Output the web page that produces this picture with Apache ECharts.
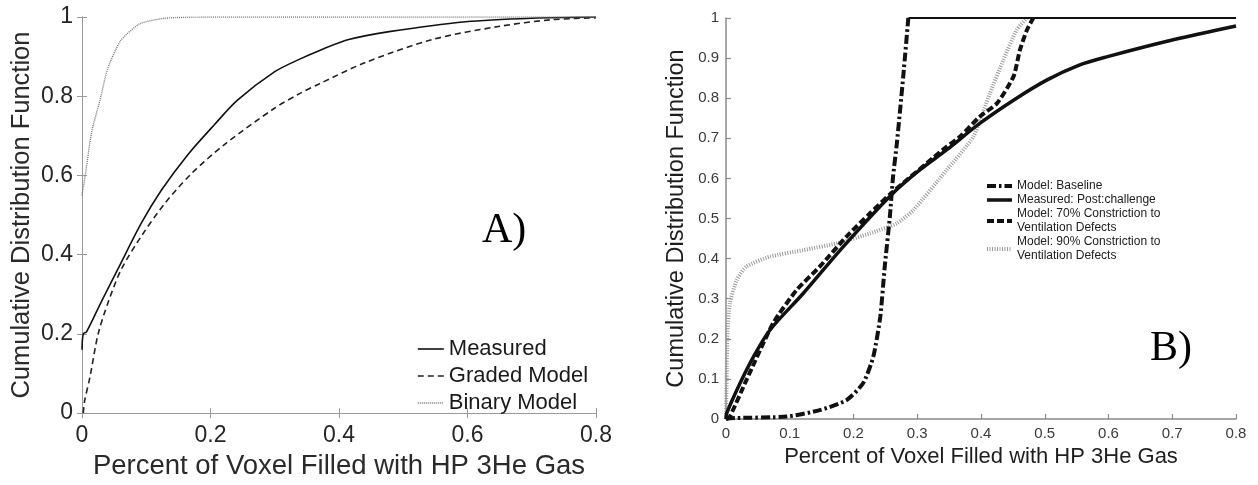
<!DOCTYPE html>
<html>
<head>
<meta charset="utf-8">
<style>
  html, body { margin: 0; padding: 0; background: #ffffff; }
  #chart { width: 1258px; height: 485px; }
</style>
<script src="https://cdn.jsdelivr.net/npm/echarts@6/dist/echarts.min.js"></script>
</head>
<body>
<div id="chart"></div>
<script>
// Panel A: CDF of voxel fill fraction (measured vs. graded / binary models)
const measuredA = [[0,0.16],[0.002,0.2],[0.007,0.205],[0.03,0.281],[0.056,0.364],[0.0925,0.48],[0.1235,0.5625],
  [0.165,0.653],[0.206,0.728],[0.242,0.79],[0.3,0.862],[0.338,0.893],[0.369,0.915],[0.415,0.943],
  [0.478,0.963],[0.597,0.988],[0.7,0.997],[0.8,1]];
const gradedA = [[0.002,0],[0.004,0.03],[0.0124,0.091],[0.025,0.199],[0.041,0.281],[0.0615,0.364],[0.0925,0.447],
  [0.1287,0.529],[0.17,0.604],[0.2217,0.678],[0.299,0.769],[0.338,0.806],[0.369,0.831],[0.441,0.885],
  [0.545,0.943],[0.648,0.976],[0.73,0.993],[0.8,0.998]];
const binaryA = [[0,0.55],[0.005,0.6],[0.015,0.71],[0.028,0.79],[0.04,0.87],[0.06,0.94],[0.09,0.983],
  [0.13,0.997],[0.2,1],[0.8,1]];

// Panel B: post-challenge measurement against constriction models
const baselineB = [[0,0],[0.006,0.002],[0.095,0.006],[0.147,0.022],[0.189,0.047],[0.215,0.089],[0.231,0.155],
  [0.242,0.255],[0.249,0.38],[0.257,0.504],[0.262,0.604],[0.268,0.687],[0.278,0.854],[0.286,1]];
const baselinePlateauB = [[0.286,1],[0.8,1]];
const measuredB = [[0,0],[0.001,0.014],[0.022,0.089],[0.043,0.155],[0.069,0.222],[0.121,0.313],[0.184,0.43],
  [0.26,0.56],[0.304,0.621],[0.346,0.671],[0.398,0.737],[0.451,0.795],[0.503,0.845],[0.555,0.883],
  [0.597,0.903],[0.7,0.945],[0.8,0.98]];
const constr70B = [[0,0],[0.006,0.006],[0.032,0.097],[0.074,0.239],[0.111,0.322],[0.147,0.38],[0.189,0.455],
  [0.226,0.513],[0.257,0.56],[0.346,0.679],[0.367,0.704],[0.398,0.754],[0.425,0.787],[0.451,0.854],
  [0.461,0.92],[0.472,0.97],[0.482,1]];
const constr90B = [[0,0],[0.001,0.1],[0.002,0.205],[0.006,0.288],[0.017,0.347],[0.032,0.38],[0.069,0.405],
  [0.121,0.421],[0.174,0.438],[0.226,0.463],[0.268,0.488],[0.294,0.521],[0.346,0.621],[0.388,0.704],
  [0.414,0.812],[0.435,0.895],[0.456,0.97],[0.472,1]];

const ticksA = { x: [0, 0.8, 0.2], y: [0, 1, 0.2] };   // min, max, interval
const ticksB = { x: [0, 0.8, 0.1], y: [0, 1, 0.1] };

const nameA = ['Measured', 'Graded Model', 'Binary Model'];
const nameB = ['Model: Baseline', 'Measured: Post:challenge',
  'Model: 70% Constriction to\nVentilation Defects', 'Model: 90% Constriction to\nVentilation Defects'];

const SANS = 'Liberation Sans, Arial, Helvetica, sans-serif';
const SERIF = 'Liberation Serif, Times New Roman, serif';

// line styles shared by the curves and their legend keys
const styleA = [
  { color: '#111', width: 1.6, type: 'solid' },
  { color: '#222', width: 1.6, type: [6, 4] },
  { color: '#777', width: 1.4, type: [1, 1] }
];
const styleB = [
  { color: '#111', width: 4, type: [9, 3, 2.5, 3] },
  { color: '#111', width: 3.5, type: 'solid' },
  { color: '#111', width: 4, type: [7, 3] },
  { color: '#9a9a9a', width: 4, type: [1, 1.5] }
];

function valueAxis(t, extra) {
  return Object.assign({
    type: 'value', min: t[0], max: t[1], interval: t[2],
    splitLine: { show: false }
  }, extra);
}

function curve(name, axis, data, lineStyle, smooth) {
  return {
    name: name, type: 'line', xAxisIndex: axis, yAxisIndex: axis, data: data,
    symbol: 'none', showSymbol: false, smooth: smooth,
    lineStyle: lineStyle, itemStyle: { color: lineStyle.color }
  };
}

const chart = echarts.init(document.getElementById('chart'), null, { renderer: 'canvas' });

const axisGrayA = '#9a9a9a';
const axisGrayB = '#8a8a8a';
const hiddenMarker = { color: 'transparent', borderColor: 'transparent', borderWidth: 0, opacity: 0 };

const option = {
  backgroundColor: '#ffffff',
  animation: false,
  grid: [
    { left: 82, top: 17, width: 514, height: 403 },
    { left: 726, top: 18, width: 510, height: 401 }
  ],
  xAxis: [
    valueAxis(ticksA.x, {
      gridIndex: 0, position: 'bottom',
      name: 'Percent of Voxel Filled with HP 3He Gas', nameLocation: 'middle', nameGap: 36,
      nameTextStyle: { fontFamily: SANS, fontSize: 27.5, color: '#2a2a2a' },
      axisLine: { lineStyle: { color: axisGrayA, width: 1 } },
      axisTick: { inside: true, length: 5, lineStyle: { color: axisGrayA } },
      axisLabel: { fontFamily: SANS, fontSize: 23, color: '#262626', margin: 11 }
    }),
    valueAxis(ticksA.x, {
      gridIndex: 0, position: 'top',
      axisLine: { lineStyle: { color: axisGrayA, width: 1 } },
      axisTick: { inside: true, length: 5, lineStyle: { color: axisGrayA } },
      axisLabel: { show: false }
    }),
    valueAxis(ticksB.x, {
      gridIndex: 1, position: 'bottom',
      name: 'Percent of Voxel Filled with HP 3He Gas', nameLocation: 'middle', nameGap: 27,
      nameTextStyle: { fontFamily: SANS, fontSize: 22, color: '#1e1e1e' },
      axisLine: { lineStyle: { color: axisGrayB, width: 1.5 } },
      axisTick: { inside: true, length: 5, lineStyle: { color: axisGrayB, width: 1.2 } },
      axisLabel: { fontFamily: SANS, fontSize: 15, color: '#3a3a3a', margin: 7 }
    })
  ],
  yAxis: [
    valueAxis(ticksA.y, {
      gridIndex: 0, position: 'left',
      name: 'Cumulative Distribution Function', nameLocation: 'middle', nameGap: 47,
      nameTextStyle: { fontFamily: SANS, fontSize: 25.5, color: '#2a2a2a' },
      axisLine: { lineStyle: { color: axisGrayA, width: 1 } },
      axisTick: { inside: true, length: 5, lineStyle: { color: axisGrayA } },
      axisLabel: { fontFamily: SANS, fontSize: 23, color: '#262626', margin: 9 }
    }),
    valueAxis(ticksA.y, {
      gridIndex: 0, position: 'right',
      axisLine: { lineStyle: { color: axisGrayA, width: 1 } },
      axisTick: { inside: true, length: 5, lineStyle: { color: axisGrayA } },
      axisLabel: { show: false }
    }),
    valueAxis(ticksB.y, {
      gridIndex: 1, position: 'left',
      name: 'Cumulative Distribution Function', nameLocation: 'middle', nameGap: 37,
      nameTextStyle: { fontFamily: SANS, fontSize: 23.5, color: '#1e1e1e' },
      axisLine: { lineStyle: { color: axisGrayB, width: 1.5 } },
      axisTick: { inside: true, length: 5, lineStyle: { color: axisGrayB, width: 1.2 } },
      axisLabel: { fontFamily: SANS, fontSize: 15, color: '#3a3a3a', margin: 7 }
    })
  ],
  legend: [
    {
      left: 412, top: 332, orient: 'vertical', selectedMode: false,
      itemWidth: 26, itemHeight: 14, itemGap: 3,
      itemStyle: hiddenMarker,
      textStyle: { fontFamily: SANS, fontSize: 22, color: '#1a1a1a', lineHeight: 24 },
      data: nameA.map((n, i) => ({ name: n, lineStyle: styleA[i] }))
    },
    {
      left: 980, top: 167, orient: 'vertical', selectedMode: false,
      itemWidth: 25, itemHeight: 14, itemGap: -14,
      itemStyle: hiddenMarker,
      textStyle: { fontFamily: SANS, fontSize: 12, color: '#202020', lineHeight: 14, padding: [7, 0, 7, 0] },
      data: [
        { name: nameB[0], lineStyle: styleB[0] },
        { name: nameB[1], lineStyle: styleB[1] },
        { name: nameB[2], lineStyle: styleB[2], textStyle: { padding: [14, 0, 0, 0] } },
        { name: nameB[3], lineStyle: styleB[3], textStyle: { padding: [14, 0, 0, 0] } }
      ]
    }
  ],
  graphic: [
    { type: 'text', left: 482, top: 210, style: { text: 'A)', font: '42px ' + SERIF, fill: '#000' } },
    { type: 'text', left: 1150, top: 328, style: { text: 'B)', font: '42px ' + SERIF, fill: '#000' } }
  ],
  series: [
    curve(nameA[0], 0, measuredA, styleA[0], 0.3),
    curve(nameA[1], 0, gradedA, styleA[1], 0.3),
    curve(nameA[2], 0, binaryA, styleA[2], 0.2),

    curve(nameB[3], 2, constr90B, styleB[3], 0.2),
    curve(nameB[1], 2, measuredB, styleB[1], 0.3),
    curve(nameB[2], 2, constr70B, styleB[2], 0.2),
    curve(nameB[0], 2, baselineB, styleB[0], 0.2),
    { name: 'baselinePlateau', type: 'line', xAxisIndex: 2, yAxisIndex: 2, data: baselinePlateauB,
      symbol: 'none', showSymbol: false,
      lineStyle: { color: '#111', width: 1.8, type: 'solid' }, itemStyle: { color: '#111' } }
  ]
};

chart.setOption(option);
</script>
</body>
</html>
